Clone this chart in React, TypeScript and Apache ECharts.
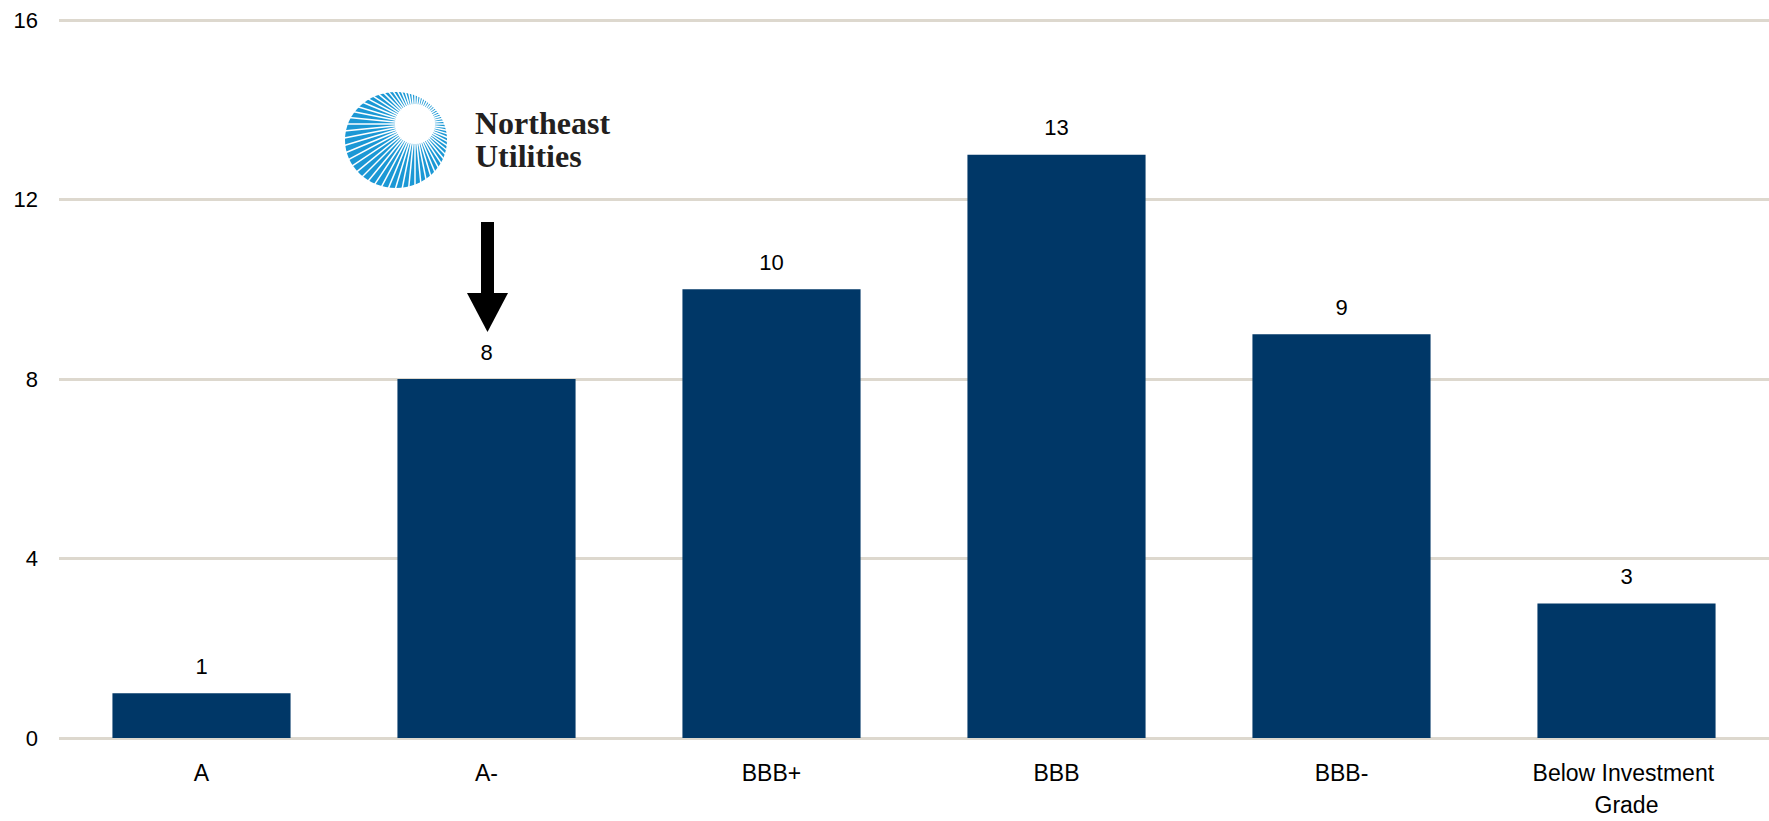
import React, { useEffect, useRef } from "react";
import * as echarts from "echarts";

const categories = ["A", "A-", "BBB+", "BBB", "BBB-", "Below Investment Grade"];
const counts = [1, 8, 10, 13, 9, 3];
const yMin = 0;
const yMax = 16;
const yInterval = 4;

function buildLogo(): any[] {
  const cx = 396, cy = 140, rx = 51, ry = 48;
  const px = 415, py = 124;
  const n = 64;
  const els: any[] = [
    { type: "ellipse", shape: { cx, cy, rx, ry }, style: { fill: "#1b98d5" }, silent: true },
  ];
  for (let i = 0; i < n; i++) {
    const a = (i / n) * Math.PI * 2;
    const dx = Math.cos(a), dy = Math.sin(a);
    const ox = (px - cx) / rx, oy = (py - cy) / ry;
    const ex = dx / rx, ey = dy / ry;
    const A = ex * ex + ey * ey;
    const B = 2 * (ox * ex + oy * ey);
    const C = ox * ox + oy * oy - 1;
    const t = (-B + Math.sqrt(B * B - 4 * A * C)) / (2 * A) + 2;
    els.push({
      type: "line",
      shape: { x1: px, y1: py, x2: px + dx * t, y2: py + dy * t },
      style: { stroke: "#ffffff", lineWidth: 1.5 },
      silent: true,
    });
  }
  els.push({ type: "circle", shape: { cx: px, cy: py, r: 20 }, style: { fill: "#ffffff" }, silent: true });
  els.push({
    type: "text", x: 475, y: 123,
    style: { text: "Northeast", font: 'bold 32px "Liberation Serif"', fill: "#231f20", verticalAlign: "middle", align: "left" },
    silent: true,
  });
  els.push({
    type: "text", x: 475, y: 156,
    style: { text: "Utilities", font: 'bold 32px "Liberation Serif"', fill: "#231f20", verticalAlign: "middle", align: "left" },
    silent: true,
  });
  // arrow
  els.push({ type: "rect", shape: { x: 481, y: 222, width: 13, height: 72 }, style: { fill: "#000" }, silent: true });
  els.push({
    type: "polygon",
    shape: { points: [[467, 293], [508, 293], [487.5, 332]] },
    style: { fill: "#000" },
    silent: true,
  });
  return els;
}

export default function App() {
  const ref = useRef<HTMLDivElement>(null);
  useEffect(() => {
    const chart = echarts.init(ref.current!, null, { renderer: "svg" });
    chart.setOption({
      animation: false,
      backgroundColor: "#ffffff",
      grid: { left: 59, right: 0, top: 20, bottom: 81, containLabel: false },
      xAxis: {
        type: "category",
        data: categories,
        axisLine: { show: false },
        axisTick: { show: false },
        axisLabel: {
          color: "#000",
          fontFamily: '"Liberation Sans", Arial, sans-serif',
          fontSize: 23,
          margin: 19,
          lineHeight: 32,
          width: 215,
          overflow: "break",
          interval: 0,
        },
      },
      yAxis: {
        type: "value",
        min: yMin,
        max: yMax,
        interval: yInterval,
        axisLine: { show: false },
        axisTick: { show: false },
        axisLabel: {
          color: "#000",
          fontFamily: '"Liberation Sans", Arial, sans-serif',
          fontSize: 22,
          margin: 21,
        },
        splitLine: { show: true, lineStyle: { color: "#ddd8ce", width: 3 } },
      },
      series: [
        {
          type: "bar",
          data: counts,
          barWidth: "62.5%",
          itemStyle: { color: "#003767" },
          label: {
            show: true,
            position: "top",
            distance: 16,
            color: "#000",
            fontFamily: '"Liberation Sans", Arial, sans-serif',
            fontSize: 22,
          },
        },
      ],
      graphic: buildLogo(),
    });
    return () => chart.dispose();
  }, []);
  return (
    <div
      ref={ref}
      style={{ position: "fixed", left: 0, top: 0, width: 1769, height: 821, background: "#fff" }}
    />
  );
}
